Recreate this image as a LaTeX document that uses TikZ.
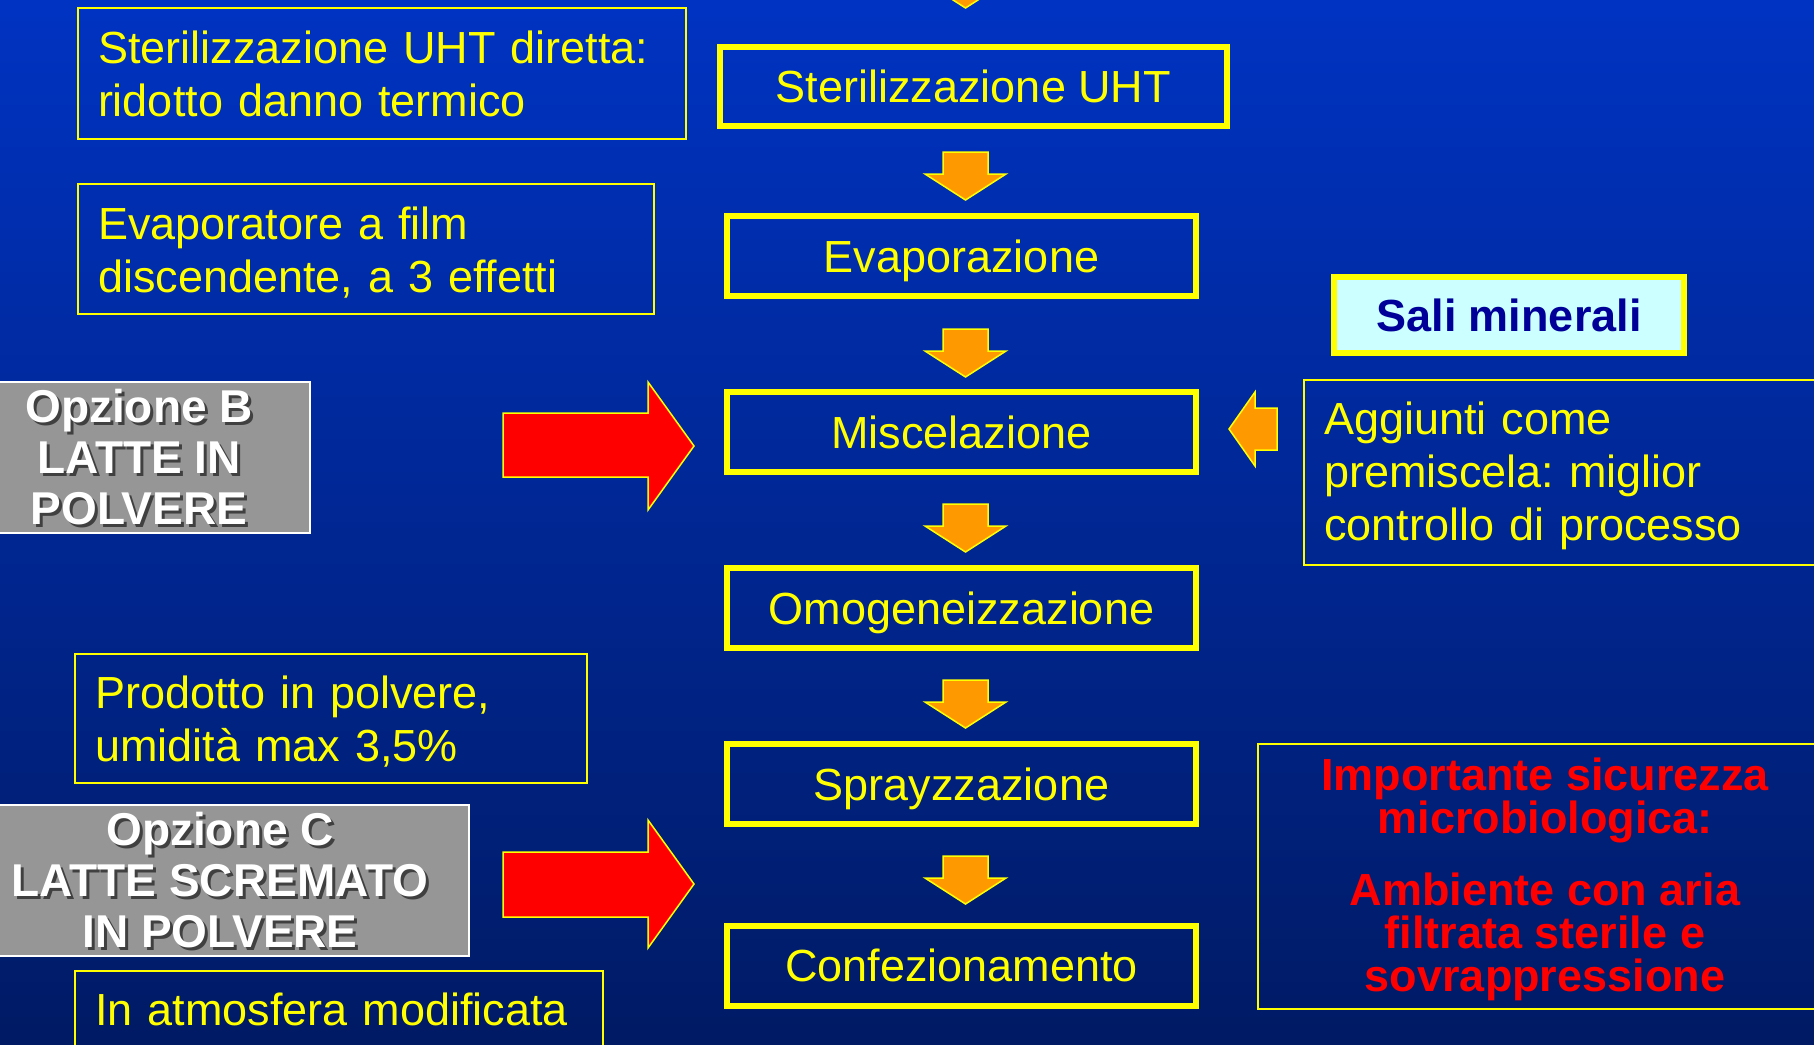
\documentclass[tikz,border=0pt]{standalone}
\usepackage{fontspec}
\setmainfont{Liberation Sans}
\usetikzlibrary{calc}
\definecolor{bgtop}{RGB}{0,51,194}
\definecolor{bgbot}{RGB}{0,26,100}
\definecolor{ylw}{RGB}{255,255,0}
\definecolor{orng}{RGB}{255,153,0}
\definecolor{redc}{RGB}{255,0,0}
\definecolor{grayb}{RGB}{150,150,150}
\definecolor{cyanl}{RGB}{204,255,255}
\definecolor{navyt}{RGB}{0,0,153}
\newcommand{\fsmain}{\fontsize{22.5pt}{26.5pt}\selectfont}
\newcommand{\fsred}{\fontsize{22.5pt}{21.5pt}\selectfont\bfseries}
\newcommand{\fsgray}{\fontsize{23pt}{25.5pt}\selectfont\bfseries}
\tikzset{
  mainbox/.style={draw=ylw, line width=3pt, text=ylw, font=\fsmain, minimum width=234.5pt, minimum height=40pt, inner sep=0pt, text depth=0pt},
  thinbox/.style={draw=ylw, line width=1pt, text=ylw, font=\fsmain, align=left, inner xsep=10pt, inner ysep=0pt},
  graybox/.style={fill=grayb, draw=white, line width=1pt, minimum height=75.5pt, inner sep=0pt},
  graytext/.style={text=white, font=\fsgray, align=center, inner sep=0pt},
  grayshadow/.style={text=black!75, font=\fsgray, align=center, inner sep=0pt},
  orangearrow/.style={fill=orng, draw=ylw, line width=0.75pt, line join=miter},
  redarrow/.style={fill=redc, draw=ylw, line width=0.75pt, line join=miter},
  downarr/.pic={\path[orangearrow] (-22.5,0) -- (22.5,0) -- (22.5,22) -- (40.5,22) -- (0,48) -- (-40.5,22) -- (-22.5,22) -- cycle;}
}
\begin{document}
\frenchspacing
\begin{tikzpicture}[x=0.5pt,y=-0.5pt]
\useasboundingbox (0,0) rectangle (1814,1044);
\clip (0,0) rectangle (1814,1044);
\shade[top color=bgtop,bottom color=bgbot] (0,0) rectangle (1814,1044);

% main column
\node[mainbox, minimum width=253.5pt, minimum height=39.5pt] (uht) at (973.5,86.5) {Sterilizzazione UHT};
\node[mainbox] (evap) at (961.5,256) {Evaporazione};
\node[mainbox] (misc) at (961.5,432) {Miscelazione};
\node[mainbox] (omog) at (961.5,608) {Omogeneizzazione};
\node[mainbox] (spray) at (961.5,784) {Sprayzzazione};
\node[mainbox] (conf) at (961.5,965.5) {Confezionamento};

% orange down arrows
\pic at (965.5,-40) {downarr};
\pic at (965.5,152) {downarr};
\pic at (965.5,329) {downarr};
\pic at (965.5,504) {downarr};
\pic at (965.5,680) {downarr};
\pic at (965.5,856) {downarr};

% left notes
\node[thinbox, text width=284pt, minimum height=65.5pt] (n1) at (382,73.5) {Sterilizzazione UHT diretta:\\ridotto danno termico};
\node[thinbox, text width=268pt, minimum height=65pt, text depth=26pt] (n2) at (366,249) {Evaporatore a film\\discendente, a 3 effetti};
\node[thinbox, text width=236pt, minimum height=64.5pt, text depth=26pt] (n3) at (331,718.5) {Prodotto in polvere,\\umidità max 3,5\%};
\node[thinbox, text width=244pt, minimum height=38pt] (n4) at (339,1009) {In atmosfera modificata};

% gray option boxes
\node[graybox, minimum width=171pt] (optb) at (139,457.5) {};
\node[grayshadow] at ($(optb.center)+(3,3)$) {Opzione B\\LATTE IN\\POLVERE};
\node[graytext] (optbt) at (optb.center) {Opzione B\\LATTE IN\\POLVERE};
\node[graybox, minimum width=249pt] (optc) at (220,880.5) {};
\node[grayshadow] at ($(optc.center)+(3,3)$) {Opzione C\\LATTE SCREMATO\\IN POLVERE};
\node[graytext] (optct) at (optc.center) {Opzione C\\LATTE SCREMATO\\IN POLVERE};

% red arrows
\path[redarrow] (503,413) -- (648,413) -- (648,382) -- (694,446) -- (648,510) -- (648,477) -- (503,477) -- cycle;
\path[redarrow] (503,852) -- (648,852) -- (648,820) -- (694,884) -- (648,948) -- (648,917) -- (503,917) -- cycle;

% right side
\node[draw=ylw, line width=3pt, fill=cyanl, text=navyt, font=\fsmain\bfseries, minimum width=175pt, minimum height=38pt, inner sep=0pt, text depth=0pt] (sali) at (1509,315) {Sali minerali};
\node[thinbox, text width=245pt, minimum height=92.5pt, text depth=54.2pt] (agg) at (1569,472.5) {Aggiunti come\\premiscela: miglior\\controllo di processo};
\path[orangearrow] (1277,408) -- (1255,408) -- (1255,392) -- (1229,429) -- (1255,466) -- (1255,450) -- (1277,450) -- cycle;
\node[draw=ylw, line width=1pt, text=redc, font=\fsred, align=center, minimum width=287pt, minimum height=132.5pt, inner sep=0pt, text depth=2.3pt] (micro) at (1545,876.5) {Importante sicurezza\\microbiologica:\\[14.5pt]Ambiente con aria\\filtrata sterile e\\sovrappressione};
\end{tikzpicture}
\end{document}
